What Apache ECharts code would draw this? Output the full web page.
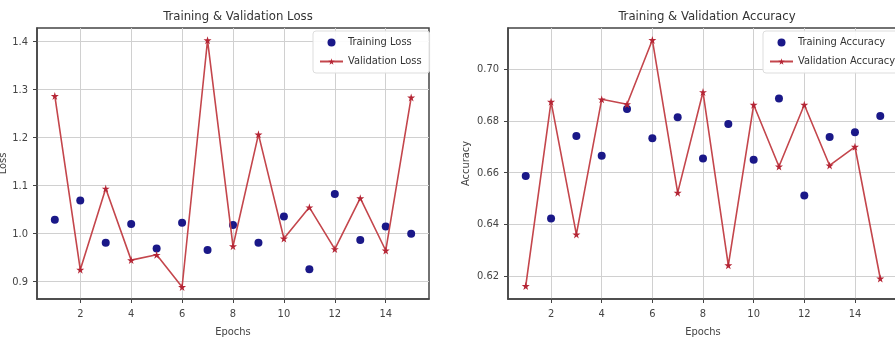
<!DOCTYPE html>
<html>
<head>
<meta charset="utf-8">
<script src="https://cdn.jsdelivr.net/npm/echarts@6/dist/echarts.min.js"></script>
<style>html,body{margin:0;padding:0;background:#fff;}#c{width:895px;height:341px;}</style>
</head>
<body>
<div id="c"></div>
<script>
const epochs = [1,2,3,4,5,6,7,8,9,10,11,12,13,14,15];
const trainLoss = [1.029,1.069,0.981,1.020,0.969,1.023,0.966,1.018,0.981,1.036,0.926,1.083,0.987,1.015,1.000];
const valLoss   = [1.287,0.925,1.094,0.945,0.956,0.889,1.403,0.974,1.207,0.990,1.055,0.968,1.074,0.965,1.284];
const trainAcc  = [0.6587,0.6423,0.6742,0.6665,0.6846,0.6733,0.6814,0.6655,0.6788,0.6650,0.6886,0.6512,0.6738,0.6756,0.6819];
const valAcc    = [0.6163,0.6874,0.6362,0.6883,0.6864,0.7112,0.6523,0.6911,0.6243,0.6862,0.6624,0.6862,0.6628,0.6700,0.6192];
const xTicks = [2,4,6,8,10,12,14];
const lossTicks = [0.9,1.0,1.1,1.2,1.3,1.4];
const accTicks = [0.62,0.64,0.66,0.68,0.70];

const FONT = "'DejaVu Sans Condensed', 'Liberation Sans Narrow', 'DejaVu Sans', sans-serif";
const STAR = 'path://M50,0 L61,35 L98,35 L68,57 L79,91 L50,70 L21,91 L32,57 L2,35 L39,35 Z';
const NAVY = '#1a1888';
const RED = '#c4464c';

function pairs(xs, ys){ return xs.map((x,i)=>[x, ys[i]]); }

function xAxis(gi){
  return {
    type:'value', gridIndex:gi, min:0.3, max:15.7,
    name:'Epochs', nameLocation:'middle', nameGap:28,
    nameTextStyle:{fontFamily:FONT, fontSize:11, color:'#444'},
    axisLine:{show:true, onZero:false, lineStyle:{color:'#444', width:1.5}},
    axisTick:{show:true, inside:false, length:4, customValues:xTicks, lineStyle:{color:'#444'}},
    axisLabel:{customValues:xTicks, margin:10, fontFamily:FONT, fontSize:11, color:'#444'},
    splitLine:{show:true, lineStyle:{color:'#d0d0d0', width:1}}
  };
}
function yAxis(gi, min, max, ticks, dec, name, gap){
  return {
    type:'value', gridIndex:gi, min:min, max:max,
    name:name, nameLocation:'middle', nameGap:gap,
    nameTextStyle:{fontFamily:FONT, fontSize:11, color:'#444'},
    axisLine:{show:true, onZero:false, lineStyle:{color:'#444', width:1.5}},
    axisTick:{show:true, inside:false, length:4, customValues:ticks, lineStyle:{color:'#444'}},
    axisLabel:{customValues:ticks, margin:9, fontFamily:FONT, fontSize:11, color:'#444',
      formatter:v=>v.toFixed(dec)},
    splitLine:{show:true, lineStyle:{color:'#d0d0d0', width:1}}
  };
}

const chart = echarts.init(document.getElementById('c'), null, {renderer:'canvas'});
chart.setOption({
  animation:false,
  backgroundColor:'#fff',
  title:[
    {text:'Training & Validation Loss', left:233, top:5, textAlign:'center',
     textStyle:{fontFamily:FONT, fontSize:13, fontWeight:'normal', color:'#333'}},
    {text:'Training & Validation Accuracy', left:702, top:5, textAlign:'center',
     textStyle:{fontFamily:FONT, fontSize:13, fontWeight:'normal', color:'#333'}}
  ],
  grid:[
    {left:37, top:28, width:392, height:271, show:true, borderColor:'#444', borderWidth:1.5,
     backgroundColor:'transparent', containLabel:false, outerBoundsMode:'none'},
    {left:508, top:28, width:390, height:271, show:true, borderColor:'#444', borderWidth:1.5,
     backgroundColor:'transparent', containLabel:false, outerBoundsMode:'none'}
  ],
  xAxis:[xAxis(0), xAxis(1)],
  yAxis:[
    yAxis(0, 0.864, 1.4286, lossTicks, 1, 'Loss', 26),
    yAxis(1, 0.6113, 0.7158, accTicks, 2, 'Accuracy', 36)
  ],
  legend:[
    {data:['Training Loss','Validation Loss'], orient:'vertical', left:313, top:31,
     backgroundColor:'rgba(255,255,255,0.9)', borderColor:'#ddd', borderWidth:1, borderRadius:3,
     padding:[6,8,6,6], itemGap:8, itemWidth:23, itemHeight:8,
     textStyle:{fontFamily:FONT, fontSize:11, color:'#333'}},
    {data:['Training Accuracy','Validation Accuracy'], orient:'vertical', left:763, top:31,
     backgroundColor:'rgba(255,255,255,0.9)', borderColor:'#ddd', borderWidth:1, borderRadius:3,
     padding:[6,8,6,6], itemGap:8, itemWidth:23, itemHeight:8,
     textStyle:{fontFamily:FONT, fontSize:11, color:'#333'}}
  ],
  series:[
    {name:'Training Loss', type:'scatter', xAxisIndex:0, yAxisIndex:0, data:pairs(epochs, trainLoss),
     symbol:'circle', symbolSize:8, itemStyle:{color:NAVY, opacity:1}},
    {name:'Validation Loss', type:'line', xAxisIndex:0, yAxisIndex:0, data:pairs(epochs, valLoss),
     symbol:STAR, symbolSize:8, showAllSymbol:true, lineStyle:{color:RED, width:1.6}, itemStyle:{color:'#b52535'}},
    {name:'Training Accuracy', type:'scatter', xAxisIndex:1, yAxisIndex:1, data:pairs(epochs, trainAcc),
     symbol:'circle', symbolSize:8, itemStyle:{color:NAVY, opacity:1}},
    {name:'Validation Accuracy', type:'line', xAxisIndex:1, yAxisIndex:1, data:pairs(epochs, valAcc),
     symbol:STAR, symbolSize:8, showAllSymbol:true, lineStyle:{color:RED, width:1.6}, itemStyle:{color:'#b52535'}}
  ]
});
</script>
</body>
</html>
